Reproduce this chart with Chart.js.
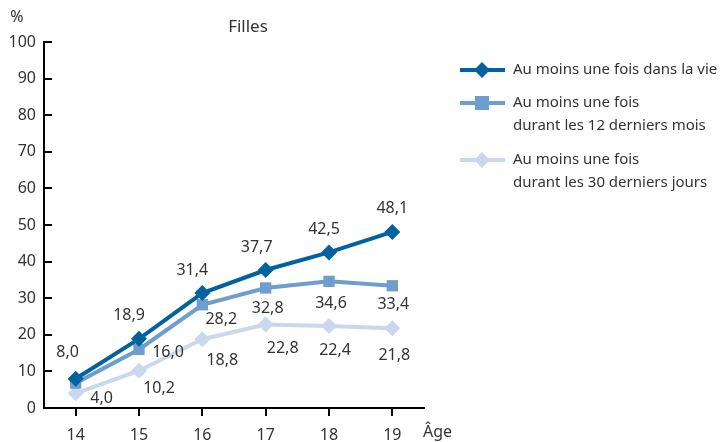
<!DOCTYPE html>
<html>
<head>
<meta charset="utf-8">
<script src="https://cdn.jsdelivr.net/npm/chart.js@4"></script>
<style>
  html, body { margin: 0; padding: 0; background: #fff; }
  #wrap { width: 721px; height: 442px; position: relative; }
</style>
</head>
<body>
<div id="wrap"><canvas id="chart" width="721" height="442"></canvas></div>
<script>
// data
const ages = ['14', '15', '16', '17', '18', '19'];
const vie = [8.0, 18.9, 31.4, 37.7, 42.5, 48.1];
const douzeMois = [6.8, 16.0, 28.2, 32.8, 34.6, 33.4];
const trenteJours = [4.0, 10.2, 18.8, 22.8, 22.4, 21.8];
const yTicks = [0, 10, 20, 30, 40, 50, 60, 70, 80, 90, 100];
const seriesNames = [
    ['Au moins une fois dans la vie'],
    ['Au moins une fois', 'durant les 12 derniers mois'],
    ['Au moins une fois', 'durant les 30 derniers jours']
];
// which labels are shown (no label for the 12 mois point at 14)
const showLabel = [
    [true, true, true, true, true, true],
    [false, true, true, true, true, true],
    [true, true, true, true, true, true]
];

const FONT = '"Noto Sans", sans-serif';
const TEXT = '#333333';
const colors = ['#0062a1', '#6f9dce', '#c9d8ec'];

// label offsets from the point (dx, dy)
const labelOffsets = [
    [[-8, -26], [-10, -23], [-10, -23], [-9, -23], [-5, -23], [0, -24]],
    [[0, 0], [29, 3], [19, 15], [2, 20], [2, 22], [1, 19]],
    [[26, 5], [20, 18], [20, 21], [17, 24], [6, 24], [2, 27]]
];

function fmt(v) {
    return v.toFixed(1).replace('.', ',');
}

const decor = {
    id: 'decor',
    afterDraw(chart) {
        const ctx = chart.ctx;
        const x = chart.scales.x, y = chart.scales.y;
        ctx.save();
        // tick marks
        ctx.strokeStyle = '#000';
        ctx.lineWidth = 2;
        yTicks.forEach(t => {
            const py = Math.round(y.getPixelForValue(t));
            ctx.beginPath();
            ctx.moveTo(x.left, py);
            ctx.lineTo(x.left + 8, py);
            ctx.stroke();
        });
        ages.forEach((a, i) => {
            const px = Math.round(x.getPixelForValue(i));
            ctx.beginPath();
            ctx.moveTo(px, y.bottom);
            ctx.lineTo(px, y.bottom + 8);
            ctx.stroke();
        });

        // titles
        ctx.fillStyle = TEXT;
        ctx.font = '17px ' + FONT;
        ctx.textAlign = 'center';
        ctx.textBaseline = 'middle';
        ctx.fillText('Filles', 248, 27);
        ctx.font = '16px ' + FONT;
        ctx.fillText('%', 17, 17);
        ctx.textAlign = 'left';
        ctx.fillText('Âge', 423, 432);

        // value labels
        ctx.font = '16px ' + FONT;
        chart.data.datasets.forEach((ds, di) => {
            const meta = chart.getDatasetMeta(di);
            meta.data.forEach((pt, i) => {
                if (!showLabel[di][i]) return;
                const off = labelOffsets[di][i];
                ctx.textAlign = 'center';
                ctx.fillText(fmt(ds.data[i]), pt.x + off[0], pt.y + off[1]);
            });
        });

        // legend
        const rows = [70, 103, 160];
        chart.data.datasets.forEach((ds, di) => {
            const ly = rows[di];
            ctx.strokeStyle = ds.borderColor;
            ctx.lineWidth = 4;
            ctx.beginPath();
            ctx.moveTo(460, ly);
            ctx.lineTo(505, ly);
            ctx.stroke();
            ctx.fillStyle = ds.borderColor;
            ctx.beginPath();
            if (ds.pointStyle === 'rect') {
                ctx.rect(475, ly - 7, 14, 14);
            } else {
                ctx.moveTo(482, ly - 8);
                ctx.lineTo(490, ly);
                ctx.lineTo(482, ly + 8);
                ctx.lineTo(474, ly);
                ctx.closePath();
            }
            ctx.fill();
            ctx.fillStyle = TEXT;
            ctx.font = '15px ' + FONT;
            ctx.textAlign = 'left';
            seriesNames[di].forEach((line, k) => {
                ctx.fillText(line, 513, ly + k * 23);
            });
        });
        ctx.restore();
    }
};

const makeSet = (data, idx, style, radius) => ({
    data,
    borderColor: colors[idx],
    backgroundColor: colors[idx],
    borderWidth: 4,
    pointStyle: style,
    pointRadius: radius,
    pointHoverRadius: radius,
    pointBorderWidth: 0,
    tension: 0
});

new Chart(document.getElementById('chart'), {
    type: 'line',
    data: {
        labels: ages,
        datasets: [
            makeSet(vie, 0, 'rectRot', 8),
            makeSet(douzeMois, 1, 'rect', 8),
            makeSet(trenteJours, 2, 'rectRot', 8)
        ]
    },
    options: {
        responsive: false,
        animation: false,
        events: [],
        layout: { padding: { left: 0, right: 297, top: 42, bottom: 0 } },
        plugins: { legend: { display: false }, tooltip: { enabled: false } },
        scales: {
            x: {
                offset: true,
                grid: { display: false },
                border: { display: true, color: '#000', width: 2 },
                ticks: { color: TEXT, font: { family: FONT, size: 16 }, padding: 10 },
                afterFit(scale) { scale.height = 34; }
            },
            y: {
                min: 0,
                max: 100,
                afterBuildTicks(scale) { scale.ticks = yTicks.map(v => ({ value: v })); },
                grid: { display: false, tickLength: 0 },
                border: { display: true, color: '#000', width: 2 },
                ticks: { color: TEXT, font: { family: FONT, size: 16 }, padding: 8 },
                afterFit(scale) { scale.width = 44; }
            }
        }
    },
    plugins: [decor]
});
</script>
</body>
</html>
